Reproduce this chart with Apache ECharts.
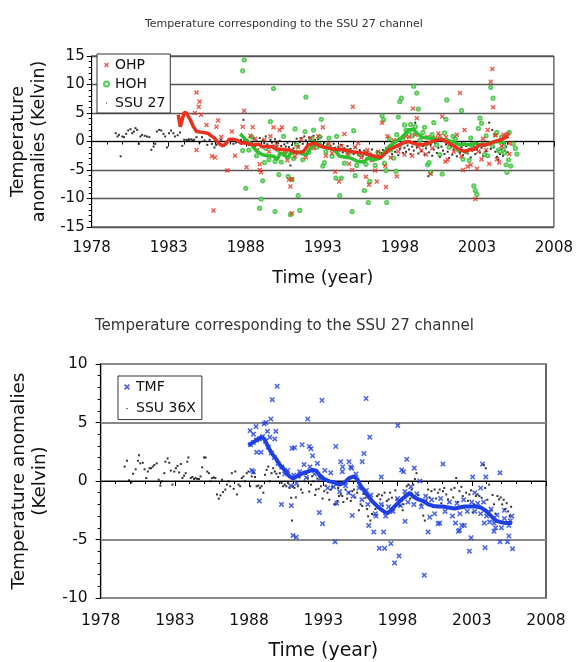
<!DOCTYPE html>
<html><head><meta charset="utf-8">
<script src="https://cdn.jsdelivr.net/npm/echarts@6/dist/echarts.min.js"></script>
<style>html,body{margin:0;padding:0;background:#fff}#c{width:576px;height:662px}</style>
</head><body><div id="c"></div>
<script>
const chartTitle = 'Temperature corresponding to the SSU 27 channel';
const xTickYears = [1978, 1983, 1988, 1993, 1998, 2003, 2008];
const yTicksTop = [-15, -10, -5, 0, 5, 10, 15];
const yTicksBottom = [-10, -5, 0, 5, 10];
const legendTop = ['OHP', 'HOH', 'SSU 27'];
const legendBottom = ['TMF', 'SSU 36X'];

// ---- top chart: [year, anomaly K]
const ssu27 = [[1979.56,1.46],[1979.67,0.88],[1979.77,1.17],[1979.88,-2.6],[1979.99,0.88],[1980.09,0.76],[1980.24,1.34],[1980.37,1.93],[1980.52,2.16],[1980.63,1.46],[1980.74,1.75],[1980.84,2.34],[1980.95,2.04],[1981.06,-0.41],[1981.16,0.88],[1981.27,1.17],[1981.44,1.0],[1981.59,0.88],[1981.74,0.76],[1981.87,-1.46],[1982.02,-0.88],[1982.12,-0.41],[1982.23,1.75],[1982.38,2.04],[1982.51,1.93],[1982.66,1.34],[1982.77,0.88],[1982.89,-1.05],[1983.02,1.46],[1983.15,1.93],[1983.3,1.46],[1983.4,0.88],[1983.58,1.1],[1983.73,1.58],[1983.88,-0.76],[1984.0,0.3],[1984.15,0.3],[1984.2,0.1],[1984.3,0.4],[1984.35,0.2],[1984.47,0.4],[1984.55,0.15],[1984.65,0.3],[1984.8,0.76],[1985.0,-0.18],[1985.16,0.76],[1985.33,0.18],[1985.5,-0.58],[1985.65,0.29],[1985.8,-0.41],[1985.97,-1.05],[1986.08,-0.58],[1986.23,0.0],[1986.4,0.29],[1986.57,-0.76],[1986.72,-0.29],[1986.87,0.18],[1987.04,0.41],[1987.2,-0.41],[1987.36,-0.18],[1987.5,-0.06],[1987.68,0.29],[1987.85,3.8],[1987.94,0.41],
[1988.1,0.3],[1988.2,-0.6],[1988.3,0.8],[1988.4,-0.2],[1988.5,0.5],[1988.6,-0.8],[1988.7,0.1],[1988.8,-0.4],[1988.9,0.6],[1989.0,-0.9],[1989.1,0.2],[1989.2,-0.3],[1989.3,0.9],[1989.4,-0.5],[1989.5,-1.1],[1989.6,0.3],[1989.7,-0.2],[1989.8,-0.7],[1989.9,0.4],[1990.0,-0.9],[1990.1,-0.3],[1990.2,0.1],[1990.3,-0.8],[1990.4,-1.3],[1990.5,-0.5],[1990.6,-0.9],[1990.7,-0.2],[1990.8,-1.0],[1990.9,-4.2],[1991.0,-0.6],[1991.1,-1.2],[1991.2,-0.3],[1991.3,0.5],[1991.4,-0.8],[1991.5,-0.1],[1991.6,0.6],[1991.7,-0.4],[1991.8,0.9],[1991.9,0.2],[1992.0,-0.5],[1992.1,0.7],[1992.2,0.1],[1992.3,-0.3],[1992.4,1.0],[1992.5,0.3],[1992.6,-0.6],[1992.7,0.4],[1992.8,-0.2],[1992.9,0.8],[1993.0,-0.7],[1993.1,-0.2],[1993.2,-1.0],[1993.3,-0.5],[1993.4,-1.3],[1993.5,-0.8],[1993.6,-1.5],[1993.7,-0.4],[1993.8,-1.1],[1993.9,-1.8],[1994.0,-0.9],[1994.1,-1.4],[1994.2,-0.6],[1994.3,-1.9],[1994.4,-1.2],[1994.5,-1.6],[1994.6,-0.8],[1994.7,-2.0],[1994.8,-1.3],[1994.9,-1.7],[1995.0,-2.2],[1995.1,-1.0],[1995.2,-1.8],[1995.3,-2.4],[1995.4,-1.5],[1995.5,-2.0],[1995.6,-2.6],[1995.7,-1.6],[1995.8,-2.3],[1995.9,-1.9],[1996.0,-2.8],[1996.1,-2.1],[1996.2,-1.4],[1996.3,-2.5],[1996.4,-3.0],[1996.5,-1.8],[1996.6,-2.4],[1996.7,-2.9],[1996.8,-2.0],[1996.9,-1.5],[1997.0,-2.3],[1997.1,-1.2],[1997.2,-1.9],[1997.3,-0.8],[1997.4,-1.5],[1997.5,-2.2],[1997.6,-1.0],[1997.7,-1.8],[1997.8,-0.6],[1997.9,-2.4],[1998.0,-1.3],[1998.1,-0.5],[1998.2,-2.0],[1998.3,-1.1],[1998.4,-1.8],[1998.5,-0.7],[1998.6,-1.4],[1998.7,-2.2],[1998.8,-0.9],[1998.9,-1.6],[1999.0,3.3],[1999.1,-1.0],[1999.2,-2.1],[1999.3,-0.4],[1999.4,-1.7],[1999.5,-0.8],[1999.6,-2.3],[1999.7,-1.2],[1999.85,-6.1],[1999.9,-1.9],[2000.0,-0.6],[2000.1,-2.5],[2000.2,-1.4],[2000.3,-0.3],[2000.4,-2.0],[2000.5,-1.1],[2000.6,-2.7],[2000.7,-0.9],[2000.8,-1.6],[2000.9,-2.2],[2001.0,-0.5],[2001.1,-1.8],[2001.2,-2.9],[2001.3,-1.0],[2001.4,-2.3],[2001.5,-1.4],[2001.6,-0.7],[2001.7,-2.6],[2001.8,-1.5],[2001.9,-2.0],[2002.0,-1.0],[2002.1,-2.4],[2002.2,-1.7],[2002.3,-0.8],[2002.4,-2.1],[2002.5,-1.3],[2002.6,-2.8],[2002.7,-1.6],[2002.8,-0.9],[2002.9,-2.2],[2003.0,-1.4],[2003.1,-0.6],[2003.2,-1.9],[2003.3,-1.1],[2003.4,-2.5],[2003.5,-0.8],[2003.6,-1.7],[2003.7,-0.4],[2003.8,3.3],[2003.9,-1.3],[2004.0,2.0],[2004.1,-1.0],[2004.2,-1.8],[2004.3,-2.7],[2004.4,-3.2],[2004.5,-2.2],[2004.6,-1.4],[2004.7,-2.5],[2004.8,-1.6],[2004.9,-0.9],[2005.0,-1.9]];

const ohp = [[1984.8,8.6],[1985.0,7.0],[1984.95,6.1],[1985.1,4.7],[1984.7,5.0],[1984.8,-1.5],[1985.45,2.9],[1985.9,-12.1],[1985.8,-2.6],[1986.0,-2.8],[1986.1,2.6],[1986.2,3.7],[1986.4,0.8],[1986.8,-5.1],[1987.1,1.75],[1987.3,-2.5],[1987.8,2.6],[1987.9,5.4],[1988.05,-4.5],[1987.95,0.0],[1988.45,2.5],[1988.3,1.0],[1988.9,-5.0],[1989.0,-5.4],[1988.9,-4.0],[1989.8,2.5],[1990.2,2.0],[1990.35,2.5],[1990.7,-3.3],[1990.8,-6.7],[1990.9,-7.9],[1991.0,-6.6],[1991.0,-12.6],[1991.2,-2.6],[1993.0,2.5],[1993.2,-2.5],[1993.8,-5.3],[1994.05,-7.0],[1994.4,1.3],[1994.7,-3.9],[1994.9,-5.0],[1994.95,6.1],[1995.3,-0.3],[1995.8,-6.2],[1996.0,-7.6],[1996.4,-5.1],[1996.5,-7.0],[1996.85,3.3],[1997.05,-4.3],[1997.1,-8.0],[1997.2,0.9],[1997.8,-6.1],[1997.9,-1.75],[1998.3,-2.3],[1998.6,0.8],[1998.8,-2.5],[1998.85,5.8],[1999.1,4.1],[1999.2,-0.9],[1999.7,-2.3],[1999.8,0.8],[2000.0,-5.7],[2000.3,0.6],[2000.6,1.0],[2000.75,4.4],[2000.95,-3.5],[2001.1,-3.2],[2001.3,-0.4],[2001.7,1.2],[2001.9,8.5],[2002.1,-5.0],[2002.2,2.0],[2002.4,-4.4],[2002.6,-4.1],[2002.9,-10.1],[2003.0,-4.8],[2003.1,-1.75],[2003.3,-3.1],[2003.7,2.0],[2003.8,-3.9],[2003.9,10.5],[2004.0,12.7],[2004.05,6.0],[2004.3,-3.1],[2004.45,-3.7],[2004.75,1.2],[2004.9,1.0],[2005.1,-0.3],[2005.1,-2.2],
[1988.6,0.5],[1988.75,-1.5],[1989.2,0.3],[1989.5,-1.8],[1989.6,0.9],[1990.0,-0.5],[1990.5,-2.2],[1991.4,-1.0],[1991.6,0.4],[1991.9,-2.8],[1992.2,0.6],[1992.4,-1.2],[1992.7,0.9],[1993.4,-0.4],[1993.6,-2.0],[1994.2,-0.8],[1994.6,-2.3],[1995.1,-1.0],[1995.5,-2.8],[1995.9,-1.5],[1996.2,-3.2],[1996.6,-1.8],[1997.4,-2.8],[1997.6,0.2],[1998.0,-0.8],[1998.4,0.9],[1999.0,1.2],[1999.4,-1.6],[2000.1,-1.2],[2000.5,1.4],[2001.0,0.8],[2001.5,-1.8],[2002.0,-2.6],[2002.7,-0.5],[2003.4,0.5],[2003.6,-1.5],[2004.2,1.1],[2004.6,-0.8],[2005.0,1.3]];

const ohpMean = [[1983.62,4.7],[1983.75,2.6],[1983.83,2.7],[1984.0,5.1],[1984.15,5.0],[1984.4,3.8],[1984.6,2.6],[1984.8,1.75],[1984.9,1.5],[1985.2,1.6],[1985.54,1.45],[1985.75,1.0],[1985.97,0.6],[1986.23,-0.3],[1986.5,-0.75],[1986.72,-0.4],[1986.93,0.4],[1987.15,0.4],[1987.47,0.2],[1987.68,-0.3],[1988.0,-0.2],[1988.2,-0.4],[1988.53,-0.6],[1988.85,-0.5],[1989.07,-0.9],[1989.39,-0.85],[1989.7,-0.9],[1989.92,-1.3],[1990.24,-1.35],[1990.56,-1.45],[1990.88,-1.5],[1991.3,-2.0],[1991.74,-1.75],[1992.06,-0.6],[1992.48,-0.3],[1992.9,-0.9],[1993.34,-1.15],[1993.76,-1.35],[1994.3,-1.45],[1994.83,-1.75],[1995.26,-1.95],[1995.69,-2.05],[1996.22,-2.5],[1996.76,-2.75],[1996.97,-2.3],[1997.29,-1.45],[1997.72,-0.9],[1998.15,-0.3],[1998.57,0.0],[1999.0,-0.4],[1999.43,-0.6],[1999.86,-0.3],[2000.29,0.2],[2000.71,0.4],[2001.14,-0.2],[2001.57,-0.9],[2001.89,-1.45],[2002.2,-1.75],[2002.53,-1.45],[2002.85,-1.35],[2003.17,-0.6],[2003.5,-0.6],[2003.82,-0.4],[2004.15,0.0],[2004.57,0.3],[2004.9,0.75],[2005.05,0.9]];

const hoh = [[1987.8,12.4],[1987.9,14.3],[1988.0,-8.2],[1987.8,-1.6],[1988.9,-11.7],[1989.0,-10.1],[1989.1,-6.9],[1989.2,-3.7],[1989.6,3.5],[1989.8,9.3],[1989.9,-12.3],[1989.9,-3.5],[1990.15,-5.8],[1990.45,0.9],[1990.75,-6.1],[1990.9,-12.8],[1991.0,-6.7],[1991.2,2.2],[1991.4,-9.5],[1991.5,-12.1],[1991.9,7.8],[1991.85,1.75],[1992.4,2.0],[1992.9,3.9],[1993.0,-4.3],[1993.1,-3.7],[1993.4,0.6],[1993.9,0.9],[1993.85,-6.4],[1994.1,-9.5],[1994.2,-6.4],[1994.6,-1.6],[1994.9,-12.3],[1995.0,1.9],[1995.1,-6.0],[1995.7,-8.6],[1995.95,-10.7],[1996.05,-7.0],[1996.2,-3.2],[1996.85,4.5],[1996.95,3.8],[1997.1,-5.1],[1997.15,-10.7],[1997.4,-1.5],[1997.6,-2.9],[1997.75,-5.2],[1997.9,4.3],[1998.0,7.0],[1998.1,7.6],[1998.3,2.9],[1998.6,1.75],[1998.9,9.7],[1999.1,8.5],[1999.2,5.7],[1999.6,2.5],[1999.8,-4.1],[1999.9,-3.7],[2000.0,-5.4],[2000.2,3.3],[2000.6,-2.3],[2000.75,-5.7],[2001.0,3.9],[2001.05,7.3],[2001.45,0.9],[2001.8,-1.5],[2002.0,5.4],[2002.1,-3.1],[2002.5,-3.3],[2002.8,-7.8],[2002.9,-8.6],[2003.0,-9.3],[2003.1,2.3],[2003.2,4.1],[2003.3,3.2],[2003.5,-2.3],[2003.7,-2.5],[2003.9,9.5],[2004.05,7.6],[2004.2,1.2],[2004.3,1.6],[2004.4,-1.5],[2004.5,-1.75],[2004.75,-0.9],[2004.9,-4.1],[2004.95,-5.4],[2005.05,-3.2],[2005.1,1.6],[2005.2,-4.3],[2005.35,-0.4],[2005.5,-1.2],[2005.6,-2.2],
[1988.2,-1.5],[1988.4,0.8],[1988.7,-2.5],[1989.3,-1.2],[1989.5,-3.2],[1990.1,-1.5],[1990.3,-3.6],[1990.6,-1.8],[1991.1,-3.0],[1991.3,-0.6],[1991.7,-3.2],[1992.1,-1.9],[1992.3,0.5],[1992.6,-1.0],[1992.8,0.8],[1993.2,-1.8],[1993.6,-2.6],[1994.0,-1.5],[1994.4,-3.8],[1994.7,-2.0],[1995.2,-4.2],[1995.4,-2.2],[1995.8,-4.0],[1996.1,-2.5],[1996.4,-4.2],[1996.6,-2.0],[1997.0,-3.8],[1997.3,0.5],[1997.5,-1.0],[1997.8,1.2],[1998.2,0.3],[1998.4,2.0],[1998.7,3.0],[1998.8,1.0],[1999.0,2.6],[1999.3,0.2],[1999.5,1.6],[1999.7,-0.5],[2000.1,1.2],[2000.4,-0.6],[2000.9,1.5],[2001.2,-1.0],[2001.6,0.5],[2002.3,-1.8],[2002.6,0.6],[2002.7,-1.2],[2003.4,-0.5],[2003.6,1.0],[2004.0,-0.8],[2004.6,0.8],[2004.8,-2.0]];

const hohMean = [[1987.64,1.35],[1987.9,0.6],[1988.1,0.0],[1988.32,-0.3],[1988.53,-1.15],[1988.75,-1.75],[1989.07,-2.3],[1989.39,-2.5],[1989.82,-2.6],[1990.03,-3.2],[1990.14,-2.6],[1990.24,-2.0],[1990.56,-2.5],[1990.78,-2.9],[1990.88,-2.1],[1991.3,-1.8],[1991.6,-2.1],[1991.9,-2.3],[1992.2,-1.2],[1992.5,-0.3],[1992.8,-0.4],[1993.0,-0.9],[1993.4,-1.0],[1993.76,-1.5],[1994.1,-2.6],[1994.8,-2.9],[1995.26,-3.5],[1995.7,-3.6],[1995.9,-2.9],[1996.3,-3.2],[1996.76,-2.9],[1996.97,-2.0],[1997.29,-0.9],[1997.72,0.0],[1998.15,0.75],[1998.57,2.05],[1998.9,2.15],[1999.1,1.45],[1999.43,0.75],[1999.86,0.6],[2000.29,0.4],[2000.71,0.4],[2001.14,0.2],[2001.57,-0.2],[2001.89,-0.6],[2002.2,-0.45],[2002.53,-0.6],[2002.85,-0.3],[2003.17,-0.6],[2003.5,-0.6],[2003.82,-0.3],[2004.25,0.0],[2004.67,-0.15],[2004.9,-0.3]];

// ---- bottom chart
const ssu36x = [[1979.62,1.23],[1979.78,1.73],[1979.91,0.06],[1980.07,-0.11],[1980.18,0.62],[1980.36,1.0],[1980.51,1.73],[1980.58,2.2],[1980.67,1.51],[1980.84,1.56],[1980.96,1.0],[1981.07,0.25],[1981.18,0.81],[1981.29,1.09],[1981.4,1.09],[1981.51,1.23],[1981.62,1.37],[1981.78,1.51],[1981.91,0.11],[1982.02,-0.39],[1982.13,-0.03],[1982.29,0.67],[1982.36,1.65],[1982.51,1.93],[1982.62,1.56],[1982.73,0.89],[1982.84,-0.31],[1982.96,0.81],[1983.07,1.09],[1983.18,1.29],[1983.29,0.73],[1983.4,1.45],[1983.51,0.25],[1983.62,0.45],[1983.73,0.67],[1983.84,1.65],[1983.91,2.01],[1984.07,0.25],[1984.18,0.34],[1984.29,0.17],[1984.4,0.25],[1984.51,0.17],[1984.62,0.17],[1984.73,0.39],[1984.84,1.17],[1984.96,2.01],[1985.07,2.01],[1985.18,0.81],[1985.29,0.67],[1985.4,-0.03],[1985.51,0.25],[1985.62,0.31],[1985.73,0.25],[1985.84,-1.15],[1985.96,-1.51],[1986.07,-1.23],[1986.18,0.11],[1986.24,-0.95],[1986.4,-0.73],[1986.51,-0.31],[1986.62,-0.03],[1986.73,-0.45],[1986.84,0.67],[1986.96,-0.67],[1987.07,0.81],[1987.18,-1.15],[1987.29,-0.31],[1987.4,-0.45],[1987.51,0.25],[1987.62,0.39],[1987.73,-0.03],[1987.84,0.67],[1987.96,0.81],[1988.07,-0.45],[1988.18,0.39],[1988.29,0.67],[1988.4,0.34],[1988.51,-0.45],[1988.62,-0.39],[1988.73,-0.59],[1988.84,-0.45],[1988.96,-1.0],[1989.07,0.53],[1989.18,0.95],[1989.29,1.23],[1989.4,-0.03],[1989.51,0.67],[1989.62,1.09],[1989.73,0.81],[1989.84,0.62],[1989.96,0.34],[1990.07,0.67],[1990.18,-0.17],[1990.29,-0.45],[1990.4,-0.31],[1990.51,-0.45],[1990.62,-0.17],[1990.73,-0.59],[1990.84,-1.43],[1990.89,-3.38],[1990.96,-0.45],
[1991.06,-0.59],[1991.15,-1.4],[1991.28,-0.45],[1991.4,0.3],[1991.5,-0.73],[1991.6,-1.0],[1991.73,-0.03],[1991.85,0.6],[1991.95,0.25],[1992.05,-0.9],[1992.17,-0.31],[1992.25,0.4],[1992.33,-0.03],[1992.45,-1.2],[1992.51,-0.73],[1992.6,0.2],[1992.68,-0.67],[1992.84,-0.45],[1992.95,-1.5],[1993.06,-0.87],[1993.15,-0.4],[1993.28,-1.0],[1993.4,-1.6],[1993.51,-0.73],[1993.6,-0.5],[1993.73,-1.99],[1993.84,-1.99],[1993.95,-1.71],[1994.0,-0.6],[1994.06,-1.29],[1994.17,-1.15],[1994.28,-1.29],[1994.35,-1.8],[1994.5,-0.73],[1994.6,-1.5],[1994.73,-1.0],[1994.85,-1.7],[1994.95,-0.87],[1995.06,-0.73],[1995.15,-1.4],[1995.28,-1.0],[1995.4,-2.5],[1995.51,-1.99],[1995.62,-2.13],[1995.7,-1.1],[1995.84,-1.43],[1995.95,-2.4],[1996.02,-3.02],[1996.17,-3.38],[1996.28,-2.82],[1996.4,-1.9],[1996.51,-2.4],[1996.62,-1.29],[1996.73,-1.15],[1996.84,-1.57],[1996.95,-1.23],[1997.0,-2.1],[1997.13,-1.0],[1997.28,-1.71],[1997.4,-1.57],[1997.5,-1.0],[1997.62,-1.43],[1997.73,-2.27],[1997.85,-0.8],[1997.95,-1.57],[1998.06,-1.99],[1998.17,-2.13],[1998.28,-1.71],[1998.35,-2.5],[1998.4,-1.99],[1998.51,-1.15],[1998.62,-0.45],[1998.73,-0.31],[1998.85,-1.5],[1998.95,-0.73],[1999.06,-0.31],[1999.17,0.17],[1999.28,0.67],[1999.4,-1.2],[1999.6,-2.0],[1999.73,-2.96],[1999.84,-3.38],[1999.95,-1.6],[2000.06,-0.73],[2000.15,-1.4],[2000.28,-0.87],[2000.4,-2.2],[2000.5,-0.73],[2000.6,-1.5],[2000.73,-1.0],[2000.84,-0.73],[2000.95,-1.9],[2001.06,-0.87],[2001.15,-0.6],[2001.28,-1.15],[2001.4,-1.57],[2001.5,-2.2],[2001.62,-0.73],[2001.75,-1.4],[2001.84,-0.59],[2001.95,0.25],[2002.05,-1.8],[2002.17,-0.87],[2002.3,-0.5],[2002.4,-1.29],[2002.5,-2.3],[2002.62,-1.0],[2002.75,-1.7],[2002.84,-1.15],[2002.95,-0.8],[2003.06,-2.68],[2003.15,-2.0],[2003.28,-1.29],[2003.4,-1.15],[2003.51,-1.29],[2003.6,-2.3],[2003.66,-1.43],[2003.8,1.37],[2003.9,-0.6],[2003.95,1.09],[2004.05,-1.6],[2004.17,-0.31],[2004.28,-2.54],[2004.4,-1.2],[2004.5,-1.99],[2004.6,-2.8],[2004.73,-1.29],[2004.84,-1.57],[2004.95,-1.4],[2005.05,-2.0],[2005.15,-1.6],[2005.25,-2.4],[2005.35,-1.9],[2005.45,-2.6],[2005.55,-3.0],[2005.65,-2.2]];

const tmf = [[1988.07,4.3],[1988.29,4.0],[1988.47,4.65],[1988.18,0.9],[1988.29,0.8],[1988.51,2.45],[1988.8,2.45],[1988.69,-1.7],[1989.02,4.9],[1989.13,5.0],[1989.24,4.25],[1989.47,5.3],[1989.56,6.95],[1989.89,8.1],[1989.4,3.75],[1989.73,3.6],[1989.8,4.25],[1990.18,-2.0],[1990.84,-2.1],[1990.89,2.8],[1990.96,-4.65],[1991.18,-4.8],[1991.06,2.85],[1991.57,3.1],[1991.95,5.3],[1992.06,2.95],[1992.17,2.75],[1992.28,2.15],[1992.91,6.9],[1992.73,-2.7],[1992.95,-3.65],[1993.84,2.95],[1993.79,-5.2],[1994.17,1.65],[1994.28,0.8],[1994.73,1.65],[1994.91,1.1],[1994.95,-2.95],[1995.62,1.65],[1995.73,2.35],[1995.88,7.05],[1996.13,3.75],[1996.06,-3.8],[1996.4,-4.35],[1996.55,-3.0],[1996.77,-5.75],[1997.13,-5.75],[1996.9,0.35],[1997.06,-4.35],[1997.55,-5.35],[1997.8,-7.0],[1998.02,4.75],[1998.1,-6.4],[1998.28,0.95],[1998.4,0.8],[1998.62,1.85],[1998.51,-3.45],[1999.13,1.1],[1999.5,0.0],[1999.8,-8.05],[2000.06,-4.35],[2000.17,-3.1],[2001.06,1.45],[2000.73,-3.65],[2000.84,-3.6],[2002.17,-4.2],[2002.33,-3.8],[2002.84,-6.0],[2002.95,-4.85],[2003.06,0.35],[2003.73,1.45],[2003.95,0.35],[2003.84,-3.6],[2003.9,-5.7],[2004.2,-3.5],[2004.5,-4.3],[2004.6,-4.0],[2004.9,0.7],[2004.9,-5.2],[2005.2,-2.5],[2005.4,-5.2],[2005.5,-4.7],[2005.7,-3.0],[2005.75,-5.8],[2003.6,-0.6],[2003.2,-1.0],[2002.5,-3.8],[2002.1,-4.3],[2001.9,-3.6],
[1988.1,3.1],[1988.3,3.3],[1988.5,3.5],[1988.7,3.6],[1988.9,3.8],[1989.1,3.4],[1989.3,2.9],[1989.5,2.4],[1989.7,2.0],[1989.95,1.5],[1990.2,1.2],[1990.4,0.6],[1990.6,0.9],[1990.8,-0.4],[1991.0,0.5],[1991.2,-0.2],[1991.4,0.8],[1991.7,1.4],[1991.85,0.3],[1992.1,1.2],[1992.4,0.6],[1992.6,1.5],[1992.8,0.2],[1993.1,0.9],[1993.3,-0.6],[1993.5,0.7],[1993.7,-0.5],[1993.9,-1.9],[1994.1,-0.9],[1994.3,1.2],[1994.5,-0.4],[1994.7,-1.0],[1994.85,1.2],[1995.0,-1.3],[1995.2,0.6],[1995.4,-0.6],[1995.6,-1.6],[1995.9,-0.8],[1996.0,-2.0],[1996.2,-1.2],[1996.5,-2.8],[1996.9,-2.0],[1997.2,-3.0],[1997.4,-2.2],[1997.7,-2.6],[1998.0,-1.5],[1998.2,-2.1],[1998.5,-0.9],[1998.7,-1.8],[1998.9,-0.5],[1999.1,-2.0],[1999.3,-1.1],[1999.6,-2.2],[1999.9,-1.3],[2000.3,-1.6],[2000.5,-2.8],[2000.9,-1.5],[2001.2,-2.6],[2001.5,-1.8],[2001.7,-3.0],[2002.0,-1.9],[2002.2,-2.8],[2002.45,-1.6],[2002.7,-2.6],[2003.0,-1.8],[2003.2,-2.6],[2003.4,-1.9],[2003.6,-2.8],[2003.8,-1.8],[2004.0,-3.0],[2004.3,-2.4],[2004.5,-3.6],[2004.7,-2.9],[2005.0,-4.0],[2005.2,-3.2],[2005.5,-3.8],[2005.6,-3.4]];

const tmfMean = [[1987.96,3.05],[1988.18,3.24],[1988.4,3.41],[1988.62,3.6],[1988.84,3.75],[1989.02,3.6],[1989.18,3.19],[1989.4,2.63],[1989.62,2.21],[1989.84,1.85],[1990.07,1.37],[1990.29,1.09],[1990.51,0.73],[1990.73,0.39],[1990.96,0.2],[1991.28,0.45],[1991.62,0.67],[1991.95,0.81],[1992.28,0.95],[1992.51,0.89],[1992.73,0.53],[1993.06,0.17],[1993.4,-0.03],[1993.73,-0.11],[1994.06,-0.31],[1994.4,-0.17],[1994.73,0.25],[1995.06,0.39],[1995.28,0.17],[1995.51,-0.39],[1995.84,-1.0],[1996.28,-1.71],[1996.73,-2.27],[1997.17,-2.68],[1997.35,-2.74],[1997.62,-2.4],[1997.95,-1.99],[1998.28,-1.57],[1998.62,-1.23],[1998.84,-1.0],[1999.06,-1.34],[1999.4,-1.57],[1999.73,-1.71],[2000.06,-1.99],[2000.4,-2.13],[2000.73,-2.18],[2001.06,-2.18],[2001.4,-2.27],[2001.84,-2.35],[2002.17,-2.27],[2002.51,-2.18],[2002.95,-2.18],[2003.28,-2.18],[2003.62,-2.27],[2003.95,-2.54],[2004.28,-2.96],[2004.62,-3.38],[2004.95,-3.52],[2005.3,-3.6],[2005.7,-3.6]];

const FONT = 'DejaVu Sans';
const RED = '#e8321e', GREEN = '#2ebf2e', BLUE = '#1e3ee6';
const XMARK = 'path://M0,2L2,0L5,3L8,0L10,2L7,5L10,8L8,10L5,7L2,10L0,8L3,5Z';
const DOT = 'path://M0,0L0.01,0L0.01,0.01Z M4,4L6,4L6,6L4,6Z M10,10L9.99,10L10,9.99Z';
const yearFmt = v => String(v);

function xAxisCfg(gi, fs, nameFs, nameGap, labMargin) {
  return {
    type: 'value', gridIndex: gi, min: xTickYears[0], max: xTickYears[xTickYears.length - 1],
    interval: xTickYears[1] - xTickYears[0],
    name: 'Time (year)', nameLocation: 'middle', nameGap: nameGap,
    nameTextStyle: { fontFamily: FONT, fontSize: nameFs, color: '#111' },
    axisLine: { lineStyle: { color: '#000', width: 1 } },
    axisTick: { show: true, length: 5, lineStyle: { color: '#000' } },
    minorTick: { show: true, splitNumber: 5, length: 3, lineStyle: { color: '#000' } },
    axisLabel: { fontFamily: FONT, fontSize: fs, color: '#111', margin: labMargin, formatter: yearFmt },
    splitLine: { show: false }
  };
}
function yAxisCfg(gi, ticks, fs, name, nameFs, nameGap, labMargin, gridColor, gridW) {
  return {
    type: 'value', gridIndex: gi, min: ticks[0], max: ticks[ticks.length - 1],
    interval: ticks[1] - ticks[0],
    name: name, nameLocation: 'middle', nameGap: nameGap,
    nameTextStyle: { fontFamily: FONT, fontSize: nameFs, color: '#111', lineHeight: nameFs * 1.18 },
    axisLine: { lineStyle: { color: '#000', width: 1 } },
    axisTick: { show: true, length: 5, lineStyle: { color: '#000' } },
    minorTick: { show: true, splitNumber: 5, length: 3, lineStyle: { color: '#000' } },
    axisLabel: { fontFamily: FONT, fontSize: fs, color: '#111', margin: labMargin },
    splitLine: { show: true, lineStyle: { color: gridColor, width: gridW } }
  };
}

const chart = echarts.init(document.getElementById('c'), null, { renderer: 'canvas' });
chart.setOption({
  animation: false,
  backgroundColor: '#fff',
  title: [
    { text: chartTitle, left: 140, top: 14, textStyle: { fontFamily: FONT, fontSize: 11, fontWeight: 'normal', color: '#333' } },
    { text: chartTitle, left: 90, top: 314, textStyle: { fontFamily: FONT, fontSize: 15, fontWeight: 'normal', color: '#333' } }
  ],
  grid: [
    { left: 89, top: 56, width: 468, height: 171, show: true, borderColor: '#222', borderWidth: 1, backgroundColor: 'transparent' },
    { left: 96, top: 364, width: 450, height: 238, show: true, borderColor: '#333', borderWidth: 1.5, backgroundColor: 'transparent' }
  ],
  xAxis: [ xAxisCfg(0, 15, 17.5, 42, 14), xAxisCfg(1, 15.5, 19, 44, 15) ],
  yAxis: [
    yAxisCfg(0, yTicksTop, 15, 'Temperature\nanomalies (Kelvin)', 17.5, 42, 7, '#555', 1.3),
    yAxisCfg(1, yTicksBottom, 15.5, 'Temperature anomalies\n(Kelvin)', 18.4, 44, 13, '#888', 1.8)
  ],
  legend: [
    { data: [ { name: legendTop[0], icon: XMARK }, { name: legendTop[1] }, { name: legendTop[2], icon: DOT } ],
      orient: 'vertical', left: 97, top: 54, itemWidth: 5, itemHeight: 5, itemGap: 3,
      padding: [3, 5, 2, 6], backgroundColor: '#fff', borderColor: '#333', borderWidth: 1,
      textStyle: { fontFamily: FONT, fontSize: 14, color: '#111', lineHeight: 16, padding: [0, 0, 0, 1] }, selectedMode: false },
    { data: [ { name: legendBottom[0], icon: XMARK }, { name: legendBottom[1], icon: DOT } ],
      orient: 'vertical', left: 118, top: 376, itemWidth: 6, itemHeight: 6, itemGap: 5.6,
      padding: [3, 6, 3, 6], backgroundColor: '#fff', borderColor: '#333', borderWidth: 1,
      textStyle: { fontFamily: FONT, fontSize: 14, color: '#111', lineHeight: 16, padding: [0, 0, 0, 1] }, selectedMode: false }
  ],
  series: [
    { name: 'SSU 27', type: 'scatter', xAxisIndex: 0, yAxisIndex: 0, data: ssu27, symbol: 'rect', symbolSize: 2, itemStyle: { color: '#000' }, z: 2 },
    { name: 'HOH', type: 'scatter', xAxisIndex: 0, yAxisIndex: 0, data: hoh, symbol: 'emptyCircle', symbolSize: 3.2, itemStyle: { color: GREEN, borderWidth: 1 }, z: 3 },
    { name: 'OHP', type: 'scatter', xAxisIndex: 0, yAxisIndex: 0, data: ohp, symbol: XMARK, symbolSize: 5, itemStyle: { color: RED }, z: 4 },
    { name: 'HOH mean', type: 'line', xAxisIndex: 0, yAxisIndex: 0, data: hohMean, showSymbol: false, symbol: 'none', lineStyle: { color: GREEN, width: 3.5 }, itemStyle: { color: GREEN }, z: 5 },
    { name: 'OHP mean', type: 'line', xAxisIndex: 0, yAxisIndex: 0, data: ohpMean, showSymbol: false, symbol: 'none', lineStyle: { color: RED, width: 3.5 }, itemStyle: { color: RED }, z: 6 },
    { name: 'SSU 36X', type: 'scatter', xAxisIndex: 1, yAxisIndex: 1, data: ssu36x, symbol: 'rect', symbolSize: 2, itemStyle: { color: '#000' }, z: 2 },
    { name: 'TMF', type: 'scatter', xAxisIndex: 1, yAxisIndex: 1, data: tmf, symbol: XMARK, symbolSize: 5.5, itemStyle: { color: BLUE }, z: 3 },
    { name: 'TMF mean', type: 'line', xAxisIndex: 1, yAxisIndex: 1, data: tmfMean, showSymbol: false, symbol: 'none', lineStyle: { color: BLUE, width: 4 }, itemStyle: { color: BLUE }, z: 4 }
  ]
});
</script></body></html>
